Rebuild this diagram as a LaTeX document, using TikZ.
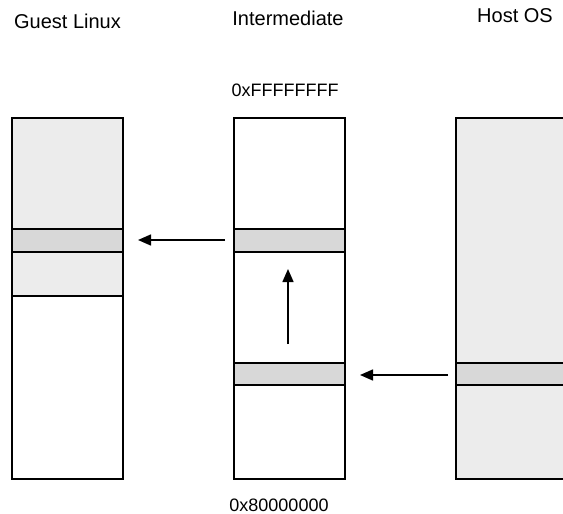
\documentclass[tikz,border=0pt]{standalone}
\usepackage{fontspec}
\setmainfont{Liberation Sans}
\usetikzlibrary{arrows.meta}
\definecolor{lightfill}{HTML}{ECECEC}
\definecolor{bandfill}{HTML}{D8D8D8}
\begin{document}
\begin{tikzpicture}[x=1pt,y=-1pt,
  mem/.style={draw=black,line width=1.5pt},
  title/.style={font=\fontsize{20}{24}\selectfont,inner sep=0pt,anchor=base},
  addr/.style={font=\fontsize{18}{22}\selectfont,inner sep=0pt,anchor=base},
  arr/.style={line width=1.5pt,-{Triangle[length=13pt,width=11pt]}}]
\useasboundingbox (0,0) rectangle (563,514);
\clip (0,0) rectangle (563,514);
% Guest Linux column
\path[mem,fill=lightfill] (12,118) rectangle (123,296);
\path[mem,fill=white] (12,296) rectangle (123,479);
\path[mem,fill=bandfill] (12,229) rectangle (123,252);
% Intermediate column
\path[mem,fill=white] (234,118) rectangle (345,479);
\path[mem,fill=bandfill] (234,229) rectangle (345,252);
\path[mem,fill=bandfill] (234,363) rectangle (345,385);
% Host column
\path[mem,fill=lightfill] (456,118) rectangle (580,479);
\path[mem,fill=bandfill] (456,363) rectangle (580,385);
% arrow anchors
\coordinate (a1s) at (225,240);
\coordinate (a1e) at (138,240);
\coordinate (a2s) at (448,375);
\coordinate (a2e) at (360,375);
\coordinate (a3s) at (288,344);
\coordinate (a3e) at (288,269);
\draw[arr] (a1s) -- (a1e);
\draw[arr] (a2s) -- (a2e);
\draw[arr] (a3s) -- (a3e);
% labels
\node[title] (tg) at (67.5,28.3) {Guest Linux};
\node[title] (ti) at (288,26) {Intermediate};
\node[title] (th) at (515,22.7) {Host OS};
\node[addr] (top) at (285,96.7) {0xFFFFFFFF};
\node[addr] (bot) at (279,511) {0x80000000};
\end{tikzpicture}
\end{document}
